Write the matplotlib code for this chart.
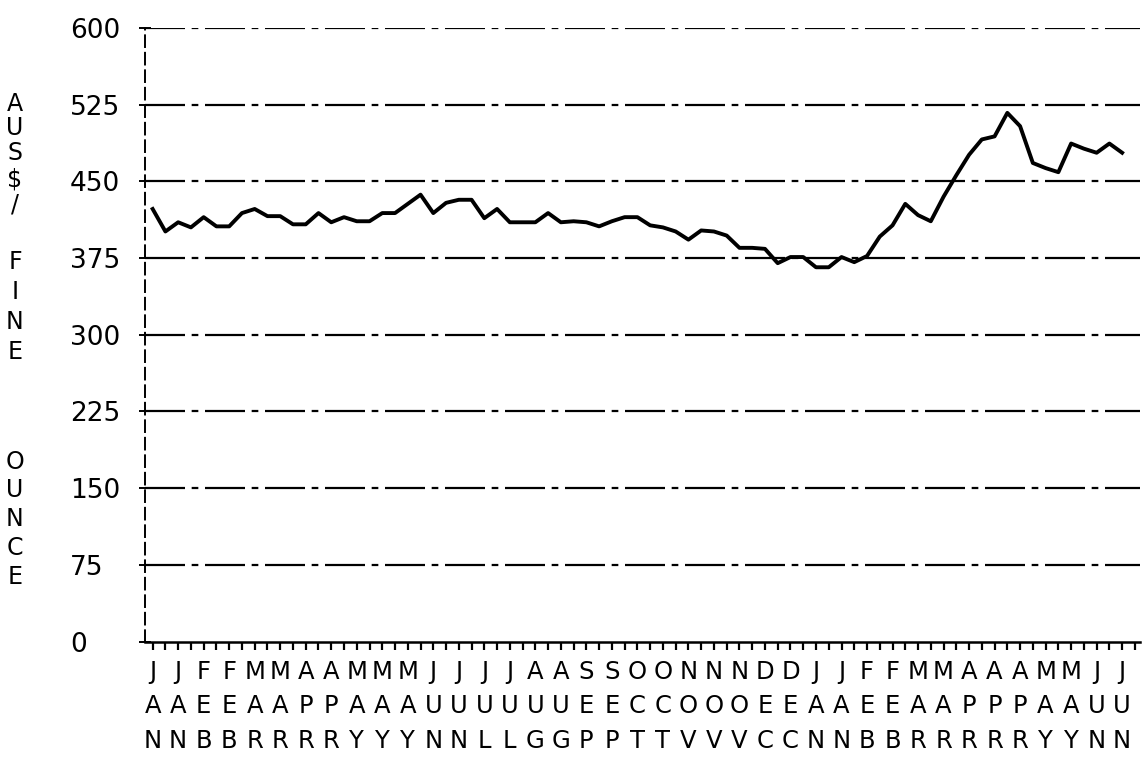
import matplotlib
matplotlib.use("Agg")
import matplotlib.pyplot as plt
from matplotlib.ticker import FixedLocator

plt.rcParams['font.family'] = ['DejaVu Sans']

# ---- data ----
price = [423, 401, 410, 405, 415, 406, 406, 419, 423, 416,
         416, 408, 408, 419, 410, 415, 411, 411, 419, 419,
         428, 437, 419, 429, 432, 432, 414, 423, 410, 410,
         410, 419, 410, 411, 410, 406, 411, 415, 415, 407,
         405, 401, 393, 402, 401, 397, 385, 385, 384, 370,
         376, 376, 366, 366, 376, 371, 377, 396, 407, 428,
         417, 411, 435, 456, 476, 491, 494, 517, 504, 468,
         463, 459, 487, 482, 478, 487, 478]

month_labels = ["JAN", "JAN", "FEB", "FEB", "MAR", "MAR", "APR", "APR",
                "MAY", "MAY", "MAY", "JUN", "JUN", "JUL", "JUL", "AUG",
                "AUG", "SEP", "SEP", "OCT", "OCT", "NOV", "NOV", "NOV",
                "DEC", "DEC", "JAN", "JAN", "FEB", "FEB", "MAR", "MAR",
                "APR", "APR", "APR", "MAY", "MAY", "JUN", "JUN"]

y_ticks = [0, 75, 150, 225, 300, 375, 450, 525, 600]
y_axis_title = "AUS$/FINE OUNCE"
n_ticks = 78

W, H = 1142, 769
fig = plt.figure(figsize=(W / 100, H / 100), dpi=100)
ax = fig.add_axes([145 / W, 1 - 641.5 / H, (1140 - 145) / W, (641.5 - 28) / H])

x = list(range(len(price)))
ax.plot(x, price, color='black', lw=2.8, solid_joinstyle='round', zorder=3)

ax.set_xlim(-0.6, 77.4)
ax.set_ylim(0, 600)

# grid lines
for v in y_ticks[1:]:
    ax.axhline(v, color='black', lw=1.6, linestyle=(0, (18, 3, 3, 3)), zorder=1)

for s in ['top', 'right']:
    ax.spines[s].set_visible(False)
ax.spines['bottom'].set_linewidth(1.8)
ax.spines['left'].set_linewidth(1.4)
ax.spines['left'].set_linestyle((0, (6, 3)))

# y ticks
ax.set_yticks(y_ticks)
ax.set_yticklabels([str(v) for v in y_ticks], fontsize=19)
ax.tick_params(axis='y', direction='inout', length=8, width=1.4, pad=50)
for lab in ax.get_yticklabels():
    lab.set_horizontalalignment('left')

# x ticks
major = list(range(0, n_ticks, 2))
minor = list(range(1, n_ticks, 2))
ax.xaxis.set_major_locator(FixedLocator(major))
ax.xaxis.set_minor_locator(FixedLocator(minor))
ax.set_xticklabels(["\n".join(m) for m in month_labels], fontsize=17.5,
                   linespacing=1.56)
ax.tick_params(axis='x', which='both', direction='out', length=6, width=1.6, pad=7)

# stacked vertical axis title
ys = [104, 128, 153, 179, 205, 262, 292, 322, 352, None, 462, 490, 519, 548, 577]
for ch, yp in zip(y_axis_title, ys):
    if yp is None or ch == " ":
        continue
    fig.text(15 / W, 1 - yp / H, ch, fontsize=17, ha='center', va='center')

fig.savefig("out.png", dpi=100)
